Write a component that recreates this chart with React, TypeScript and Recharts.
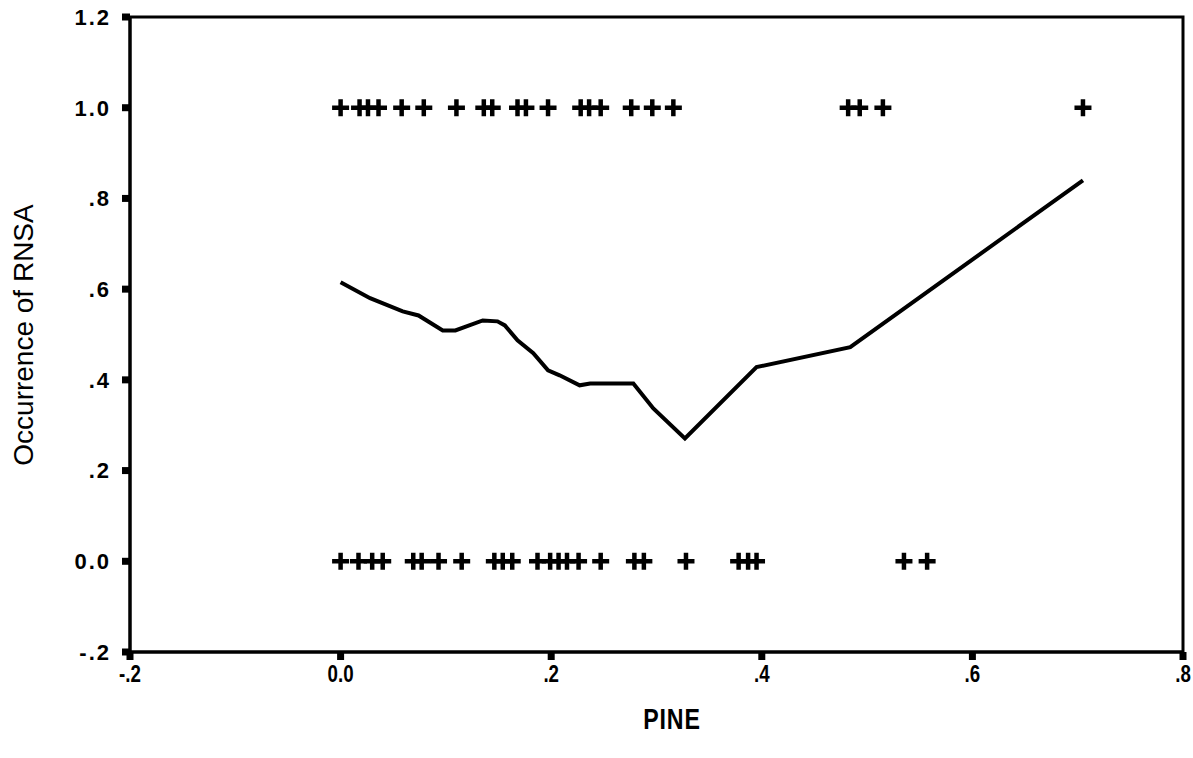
import React from "react";
import { ComposedChart, XAxis, YAxis, Scatter, Line, ReferenceArea } from "recharts";

// axis ticks and their printed labels
const xTicks = [-0.2, 0, 0.2, 0.4, 0.6, 0.8];
const xTickLabels = ["-.2", "0.0", ".2", ".4", ".6", ".8"];
const yTicks = [-0.2, 0, 0.2, 0.4, 0.6, 0.8, 1.0, 1.2];
const yTickLabels = ["-.2", "0.0", ".2", ".4", ".6", ".8", "1.0", "1.2"];

// PINE values of sites where RNSA occurred (1) or not (0)
const pinePresent = [
    0.0, 0.018, 0.026, 0.036, 0.058, 0.079, 0.11, 0.136, 0.144, 0.168, 0.176, 0.197,
    0.228, 0.236, 0.247, 0.276, 0.296, 0.316, 0.482, 0.493, 0.515, 0.705,
];
const pineAbsent = [
    0.0, 0.017, 0.03, 0.04, 0.069, 0.077, 0.093, 0.115, 0.146, 0.154, 0.163, 0.187,
    0.199, 0.207, 0.215, 0.226, 0.247, 0.279, 0.288, 0.328, 0.378, 0.387, 0.395,
    0.535, 0.557,
];

// smoothed fit line
const fitX = [
    0.0, 0.028, 0.059, 0.074, 0.097, 0.109, 0.135, 0.149, 0.156, 0.168, 0.183, 0.197,
    0.208, 0.227, 0.237, 0.278, 0.297, 0.327, 0.395, 0.484, 0.705,
];
const fitY = [
    0.615, 0.58, 0.551, 0.542, 0.509, 0.509, 0.531, 0.529, 0.52, 0.487, 0.459, 0.421,
    0.41, 0.388, 0.392, 0.392, 0.337, 0.271, 0.428, 0.472, 0.84,
];

const points = [
    ...pinePresent.map(x => ({ x, y: 1 })),
    ...pineAbsent.map(x => ({ x, y: 0 })),
];
const fitData = fitX.map((x, i) => ({ x, y: fitY[i] }));

const labelFor = (ticks: number[], labels: string[], v: number) =>
    labels[ticks.findIndex(t => Math.abs(t - v) < 1e-6)];

const PlusMark = (props: any) => {
    const { cx, cy } = props;
    return (
        <path
            d={`M${cx - 8.5},${cy} H${cx + 8.5} M${cx},${cy - 8.5} V${cy + 8.5}`}
            stroke="#000"
            strokeWidth={4.5}
            fill="none"
        />
    );
};

// condensed bold labels under the x axis
const XTick = (props: any) => {
    const { x, y, payload } = props;
    return (
        <text
            transform={`translate(${x},${y}) scale(0.78,1)`}
            textAnchor="middle"
            dy="0.75em"
            fontFamily="'Liberation Sans', Arial, sans-serif"
            fontSize={24}
            fontWeight={700}
            fill="#000"
        >
            {labelFor(xTicks, xTickLabels, payload.value)}
        </text>
    );
};

export default function App() {
    return (
        <div style={{ position: "absolute", left: 0, top: 0, width: 1193, height: 758, background: "#fff" }}>
            <ComposedChart width={1193} height={758} margin={{ top: 17, right: 10, left: 0, bottom: 0 }}>
                <XAxis
                    type="number"
                    dataKey="x"
                    domain={[-0.2, 0.8]}
                    ticks={xTicks}
                    allowDataOverflow
                    height={106}
                    tickSize={8}
                    tickMargin={4}
                    axisLine={{ stroke: "#000", strokeWidth: 3 }}
                    tickLine={{ stroke: "#000", strokeWidth: 7 }}
                    tick={<XTick />}
                    label={{
                        content: () => (
                            <text transform="translate(672,719) scale(0.8,1)" textAnchor="middle" dominantBaseline="central"
                                fontFamily="'Liberation Sans', Arial, sans-serif"
                                fontSize={29} fontWeight={700} letterSpacing={1} fill="#000">
                                PINE
                            </text>
                        ),
                    }}
                />
                <YAxis
                    type="number"
                    dataKey="y"
                    domain={[-0.2, 1.2]}
                    ticks={yTicks}
                    allowDataOverflow
                    width={130}
                    tickSize={8}
                    tickMargin={11}
                    axisLine={{ stroke: "#000", strokeWidth: 3 }}
                    tickLine={{ stroke: "#000", strokeWidth: 7 }}
                    tickFormatter={(v: number) => labelFor(yTicks, yTickLabels, v)}
                    tick={{
                        fill: "#000",
                        fontSize: 22,
                        fontWeight: 700,
                        fontFamily: "'Liberation Sans', Arial, sans-serif",
                        letterSpacing: 2,
                    }}
                    label={{
                        content: () => (
                            <text transform="translate(23,335) rotate(-90)" textAnchor="middle"
                                dominantBaseline="central" fontFamily="'Liberation Sans', Arial, sans-serif"
                                fontSize={28} fill="#000">
                                Occurrence of RNSA
                            </text>
                        ),
                    }}
                />
                <ReferenceArea x1={-0.2} x2={0.8} y1={-0.2} y2={1.2} fill="none" stroke="#000" strokeWidth={3} fillOpacity={0} />
                <Line
                    data={fitData}
                    dataKey="y"
                    type="linear"
                    stroke="#000"
                    strokeWidth={4}
                    dot={false}
                    activeDot={false}
                    isAnimationActive={false}
                />
                <Scatter data={points} dataKey="y" shape={PlusMark} isAnimationActive={false} />
            </ComposedChart>
        </div>
    );
}
